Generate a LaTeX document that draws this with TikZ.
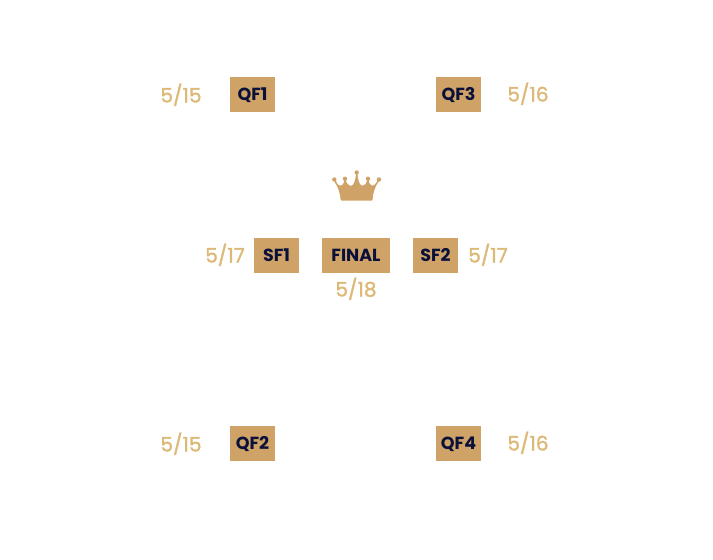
\documentclass[tikz,border=0pt]{standalone}
\usepackage{fontspec}
\setmainfont{Poppins}
\newfontfamily\datefont[FakeBold=1.5]{Poppins}
\usepackage{tikz}
\usetikzlibrary{positioning}
\definecolor{boxgold}{HTML}{CFA368}
\definecolor{dategold}{HTML}{DDB977}
\definecolor{boxnavy}{HTML}{0B1038}

\begin{document}
\begin{tikzpicture}[x=1pt,y=-1pt]
		\tikzset{
			match/.style={fill=boxgold, text=boxnavy, font=\bfseries\fontsize{17.5}{17.5}\selectfont, minimum width=45pt, minimum height=35pt, inner sep=0pt, text height=12pt, text depth=0pt},
			date/.style={text=dategold, font=\datefont\fontsize{20}{20}\selectfont, inner sep=0pt, text height=14pt, text depth=0pt}
		}
		\useasboundingbox (0,0) rectangle (713,560);
		
		\node[match] (qf1) at (252.5,94.5)  {QF1};
		\node[match] (qf3) at (458.5,94.5)  {QF3};
		\node[match] (sf1) at (276.5,255.5) {SF1};
		\node[match, minimum width=68pt] (final) at (356,255.5) {FINAL};
		\node[match] (sf2) at (435.5,255.5) {SF2};
		\node[match] (qf2) at (252.5,443.5) {QF2};
		\node[match] (qf4) at (458.5,443.5) {QF4};
		
		\node[date] (d1) at (181,95.5)  {5/15};
		\node[date] (d3) at (528,94.5)  {5/16};
		\node[date] (ds1) at (225,255.5) {5/17};
		\node[date] (ds2) at (488,255.5) {5/17};
		\node[date] (df) at (356,289.5) {5/18};
		\node[date] (d2) at (181,444.5) {5/15};
		\node[date] (d4) at (528,443.5) {5/16};
		
		% crown
		\filldraw[boxgold, line width=1.4pt, line join=round] (341.4,199.8) -- (371.8,199.8) .. controls (372.3,193) and (374,186.5) .. (378.5,180.5) .. controls (376,184.5) and (374.5,186.5) .. (372.5,186.5) .. controls (370,186.5) and (368.5,184) .. (368,180) .. controls (367,184) and (365,186.5) .. (362.5,186.5) .. controls (359.5,186.5) and (357.5,182) .. (356.7,174) .. controls (356,182) and (354,186.5) .. (351,186.5) .. controls (348.5,186.5) and (346,184) .. (345,180) .. controls (344.5,184) and (343,186.5) .. (340.5,186.5) .. controls (338,186.5) and (336.5,184.5) .. (334.8,180.5) .. controls (338.5,186.5) and (341,193) .. (341.4,199.8) -- cycle;
		\foreach \cx/\cy in {334.3/179.5, 345/178.8, 356.7/172.5, 368/178.8, 379/179.5}
			\fill[boxgold] (\cx,\cy) circle (2.2pt);
\end{tikzpicture}
\end{document}
